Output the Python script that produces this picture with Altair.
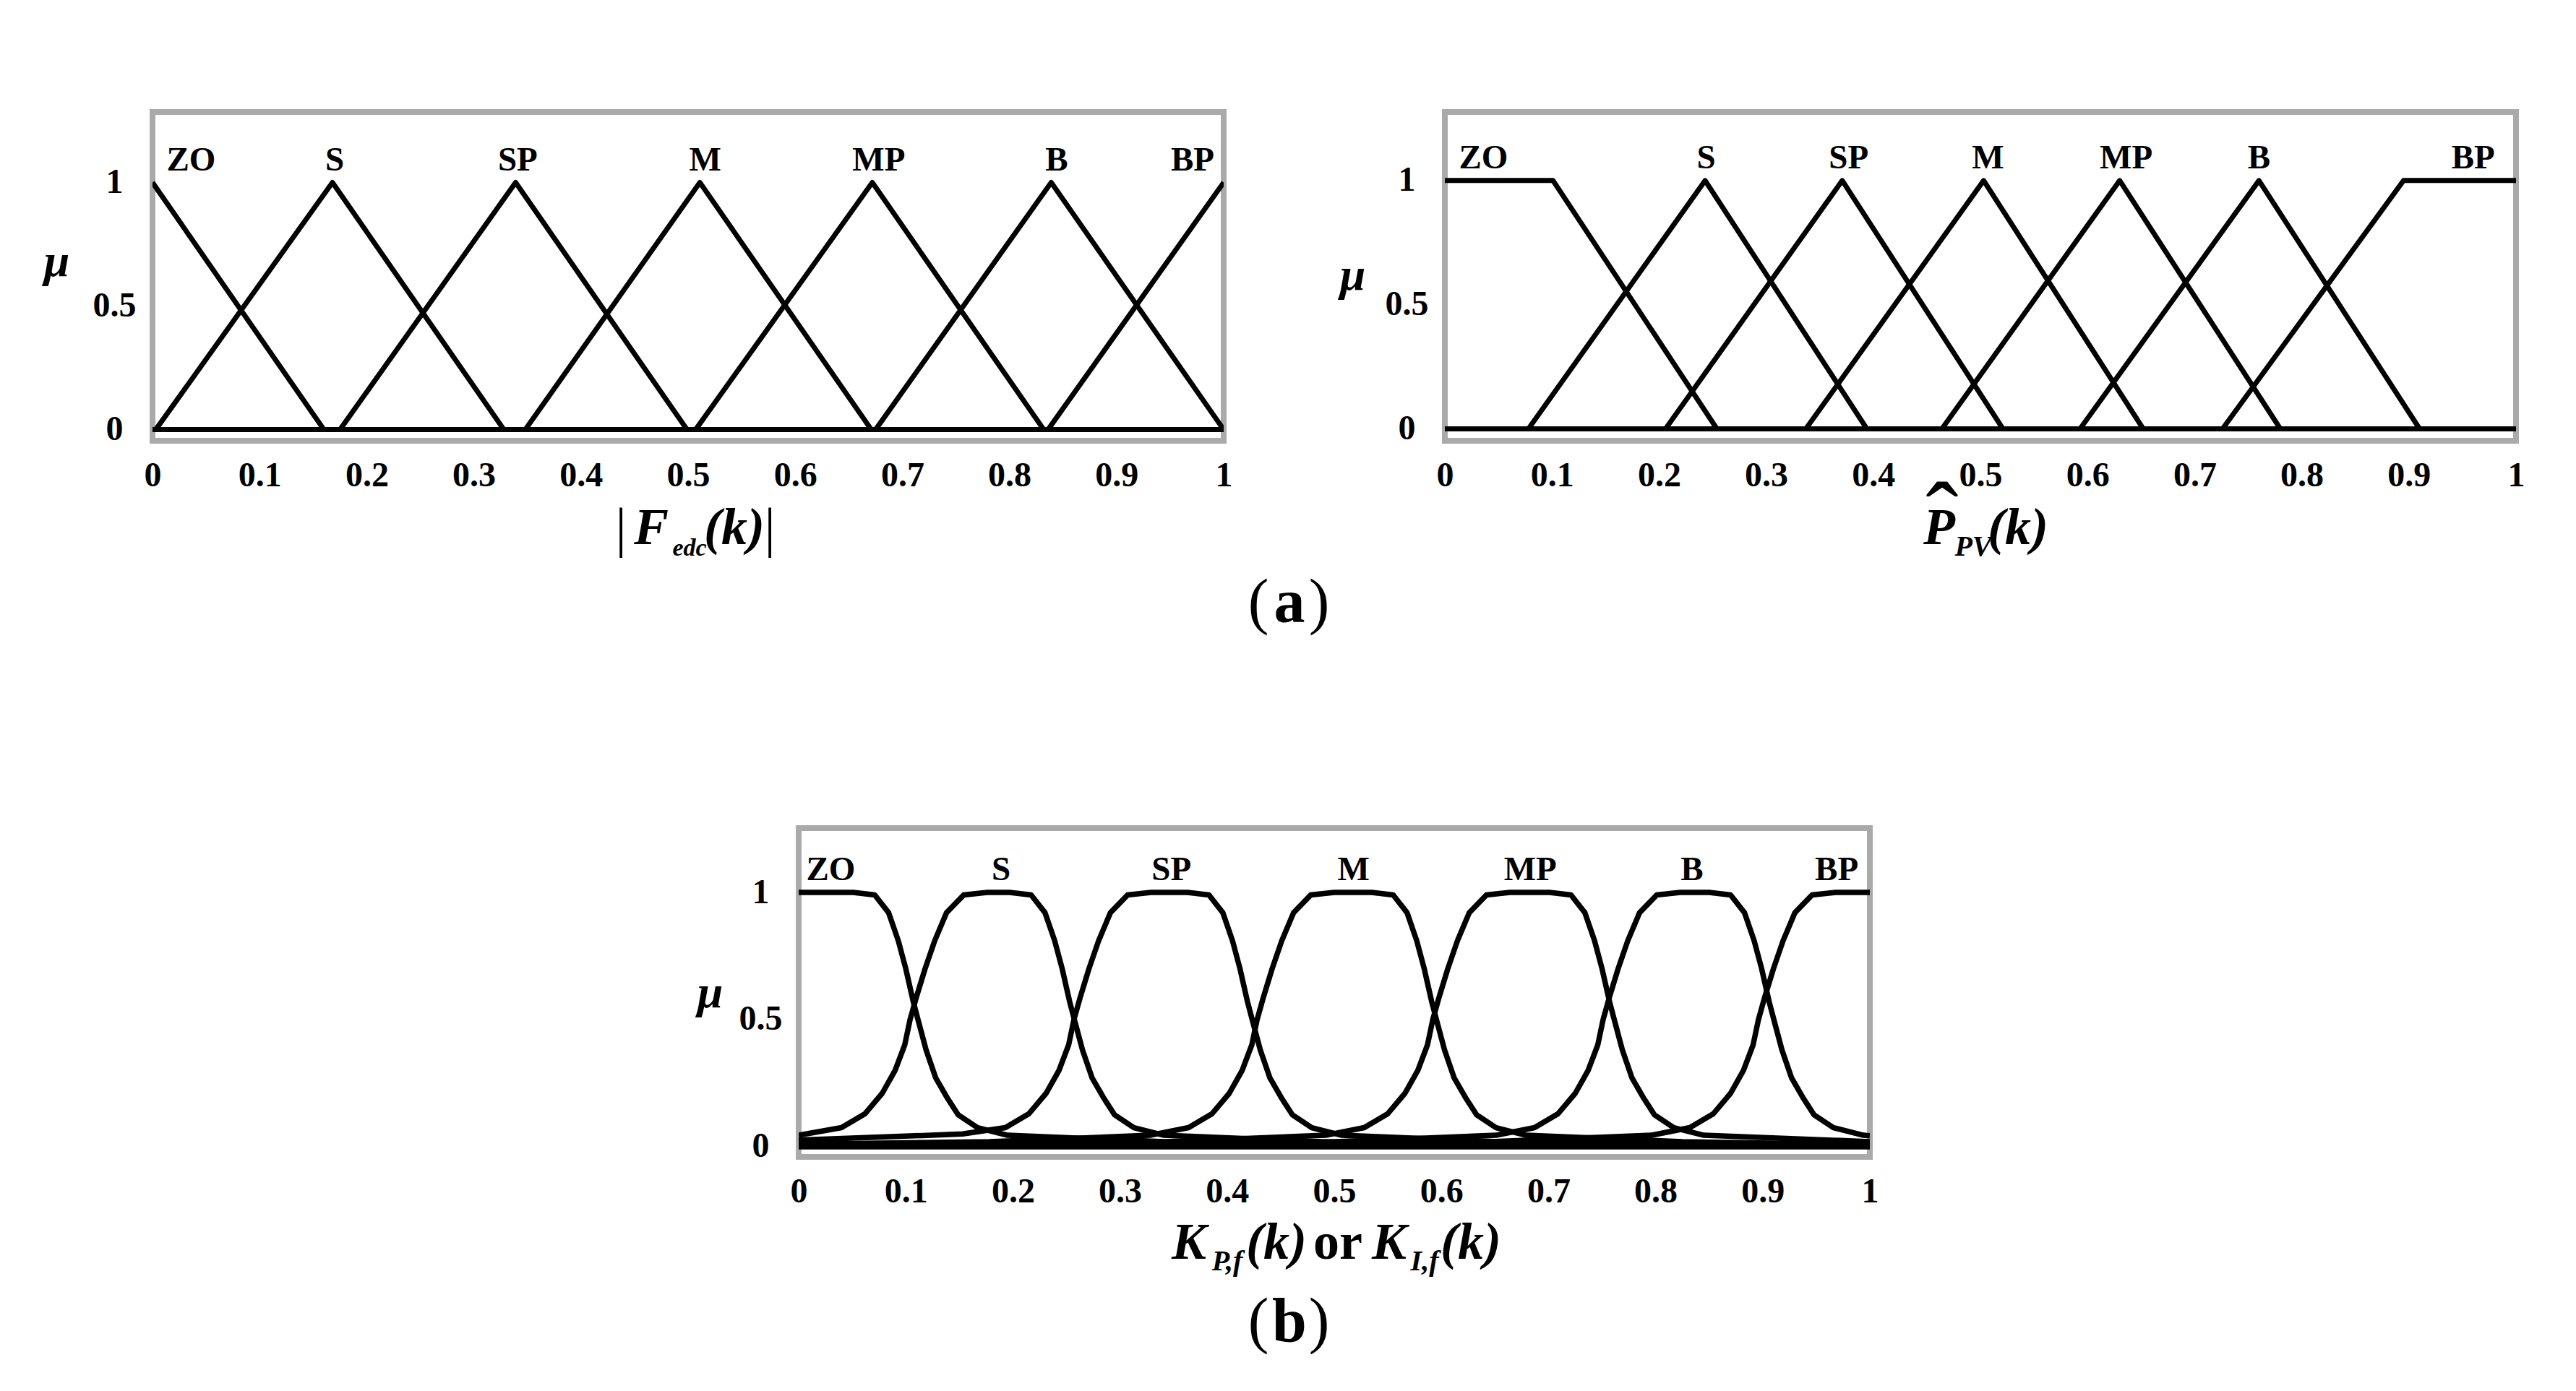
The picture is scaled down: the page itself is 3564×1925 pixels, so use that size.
import altair as alt
import pandas as pd

FONT = "Liberation Serif"
MF_NAMES = ["ZO", "S", "SP", "M", "MP", "B", "BP"]
X_TICKS = [0, 0.1, 0.2, 0.3, 0.4, 0.5, 0.6, 0.7, 0.8, 0.9, 1]
Y_TICKS = [0, 0.5, 1]

# ---------- panel (a) left : |F_edc(k)| ----------
P1_X = {
    "ZO": [0.0, 0.160, 1.0],
    "S": [0.0, 0.003, 0.168, 0.328, 1.0],
    "SP": [0.0, 0.175, 0.339, 0.499, 1.0],
    "M": [0.0, 0.348, 0.511, 0.671, 1.0],
    "MP": [0.0, 0.507, 0.672, 0.832, 1.0],
    "B": [0.0, 0.675, 0.839, 1.0],
    "BP": [0.0, 0.836, 1.0],
}
P1_Y = {
    "ZO": [1, 0, 0],
    "S": [0, 0, 1, 0, 0],
    "SP": [0, 0, 1, 0, 0],
    "M": [0, 0, 1, 0, 0],
    "MP": [0, 0, 1, 0, 0],
    "B": [0, 0, 1, 0],
    "BP": [0, 0, 1],
}
P1_LABEL_X = [0.036, 0.170, 0.341, 0.516, 0.678, 0.844, 0.971]

# ---------- panel (a) right : P_PV(k) ----------
P2_X = {
    "ZO": [0.0, 0.101, 0.254, 1.0],
    "S": [0.0, 0.078, 0.243, 0.394, 1.0],
    "SP": [0.0, 0.206, 0.371, 0.521, 1.0],
    "M": [0.0, 0.337, 0.503, 0.652, 1.0],
    "MP": [0.0, 0.464, 0.630, 0.780, 1.0],
    "B": [0.0, 0.593, 0.760, 0.910, 1.0],
    "BP": [0.0, 0.726, 0.895, 1.0],
}
P2_Y = {
    "ZO": [1, 1, 0, 0],
    "S": [0, 0, 1, 0, 0],
    "SP": [0, 0, 1, 0, 0],
    "M": [0, 0, 1, 0, 0],
    "MP": [0, 0, 1, 0, 0],
    "B": [0, 0, 1, 0, 0],
    "BP": [0, 0, 1, 1],
}
P2_LABEL_X = [0.036, 0.244, 0.377, 0.507, 0.636, 0.760, 0.960]

# ---------- panel (b) : K_P,f(k) or K_I,f(k) ----------
P3_X = {
    "ZO": [0.0, 0.051, 0.071, 0.084, 0.093, 0.100, 0.107, 0.112, 0.119, 0.128,
           0.139, 0.149, 0.167, 0.195, 0.341, 1.0],
    "S": [0.0, 0.040, 0.062, 0.078, 0.090, 0.099, 0.104, 0.110, 0.118, 0.127,
          0.138, 0.154, 0.176, 0.197, 0.217, 0.230, 0.239, 0.246, 0.253, 0.258,
          0.265, 0.274, 0.285, 0.295, 0.313, 0.341, 0.487, 1.0],
    "SP": [0.0, 0.153, 0.193, 0.215, 0.231, 0.243, 0.252, 0.257, 0.263, 0.271,
           0.280, 0.291, 0.307, 0.329, 0.363, 0.383, 0.396, 0.405, 0.412, 0.419,
           0.424, 0.431, 0.440, 0.451, 0.461, 0.479, 0.507, 0.653, 1.0],
    "M": [0.0, 0.178, 0.328, 0.364, 0.386, 0.402, 0.414, 0.423, 0.428, 0.434,
          0.442, 0.451, 0.462, 0.478, 0.500, 0.535, 0.555, 0.568, 0.577, 0.584,
          0.591, 0.596, 0.603, 0.612, 0.623, 0.633, 0.651, 0.679, 0.825, 1.0],
    "MP": [0.0, 0.342, 0.492, 0.528, 0.550, 0.566, 0.578, 0.587, 0.592, 0.598,
           0.606, 0.615, 0.626, 0.642, 0.664, 0.701, 0.721, 0.734, 0.743, 0.750,
           0.757, 0.762, 0.769, 0.778, 0.789, 0.799, 0.817, 0.845, 1.0],
    "B": [0.0, 0.501, 0.651, 0.687, 0.709, 0.725, 0.737, 0.746, 0.751, 0.757,
          0.765, 0.774, 0.785, 0.801, 0.823, 0.850, 0.870, 0.883, 0.892, 0.899,
          0.906, 0.911, 0.918, 0.927, 0.938, 0.948, 0.966, 0.994, 1.0],
    "BP": [0.0, 0.646, 0.796, 0.832, 0.854, 0.870, 0.882, 0.891, 0.896, 0.902,
           0.910, 0.919, 0.930, 0.946, 0.968, 1.0],
    "base": [0.0, 1.0],
}
P3_Y = {
    "ZO": [1.0, 1.0, 0.99, 0.92, 0.81, 0.70, 0.57, 0.49, 0.38, 0.27,
           0.19, 0.125, 0.075, 0.045, 0.02, 0.008],
    "S": [0.045, 0.075, 0.13, 0.21, 0.30, 0.40, 0.50, 0.59, 0.70, 0.81,
          0.92, 0.99, 1.0, 1.0, 0.99, 0.92, 0.81, 0.70, 0.57, 0.49,
          0.38, 0.27, 0.19, 0.125, 0.075, 0.045, 0.02, 0.008],
    "SP": [0.026, 0.05, 0.075, 0.13, 0.21, 0.30, 0.40, 0.50, 0.59, 0.70,
           0.81, 0.92, 0.99, 1.0, 1.0, 0.99, 0.92, 0.81, 0.70, 0.57,
           0.49, 0.38, 0.27, 0.19, 0.125, 0.075, 0.045, 0.02, 0.008],
    "M": [0.01, 0.02, 0.045, 0.075, 0.13, 0.21, 0.30, 0.40, 0.50, 0.59,
          0.70, 0.81, 0.92, 0.99, 1.0, 1.0, 0.99, 0.92, 0.81, 0.70,
          0.57, 0.49, 0.38, 0.27, 0.19, 0.125, 0.075, 0.045, 0.02, 0.008],
    "MP": [0.01, 0.02, 0.045, 0.075, 0.13, 0.21, 0.30, 0.40, 0.50, 0.59,
           0.70, 0.81, 0.92, 0.99, 1.0, 1.0, 0.99, 0.92, 0.81, 0.70,
           0.57, 0.49, 0.38, 0.27, 0.19, 0.125, 0.075, 0.045, 0.02],
    "B": [0.01, 0.02, 0.045, 0.075, 0.13, 0.21, 0.30, 0.40, 0.50, 0.59,
          0.70, 0.81, 0.92, 0.99, 1.0, 1.0, 0.99, 0.92, 0.81, 0.70,
          0.57, 0.49, 0.38, 0.27, 0.19, 0.125, 0.075, 0.045, 0.043],
    "BP": [0.01, 0.02, 0.045, 0.075, 0.13, 0.21, 0.30, 0.40, 0.50, 0.59,
           0.70, 0.81, 0.92, 0.99, 1.0, 1.0],
    "base": [0.0, 0.0],
}
P3_LABEL_X = [0.030, 0.189, 0.348, 0.518, 0.683, 0.834, 0.969]

LABEL_Y = 1.048
GRAY = "#aaaaaa"
PANEL_W, PANEL_H = 1482, 455
TF, SF = 72, 40  # title main / subscript font sizes


def curves_df(X, Y):
    rows = []
    for name in X:
        for i, (xv, yv) in enumerate(zip(X[name], Y[name])):
            rows.append({"mf": name, "i": i, "x": xv, "y": yv})
    return pd.DataFrame(rows)


def txt(s, x, y, size, style="italic", weight="bold", align="center"):
    return alt.Chart(alt.Data(values=[{"k": 0}])).mark_text(
        text=s, font=FONT, fontSize=size, fontStyle=style, fontWeight=weight,
        color="black", align=align, baseline="alphabetic",
    ).encode(x=alt.value(x), y=alt.value(y))


def panel(X, Y, label_x, ydom, mu_x, mu_y, pieces, stroke):
    df = curves_df(X, Y)
    xs = alt.Scale(domain=[0, 1], nice=False, zero=False)
    ys = alt.Scale(domain=ydom, nice=False, zero=False)
    xaxis = alt.Axis(values=X_TICKS, format=".1~f", title=None, domain=False,
                     ticks=False, grid=False, labelFont=FONT, labelFontWeight="bold",
                     labelFontSize=48, labelColor="black", labelPadding=24,
                     labelFlush=False, labelOverlap=False)
    yaxis = alt.Axis(values=Y_TICKS, format=".1~f", title="μ", domain=False,
                     ticks=False, grid=False, labelFont=FONT, labelFontWeight="bold",
                     labelFontSize=48, labelColor="black", labelPadding=53,
                     labelAlign="center", labelBaseline="middle", labelFlush=False,
                     titleFont=FONT, titleFontStyle="italic", titleFontWeight="bold",
                     titleFontSize=64, titleColor="black", titleAngle=0,
                     titleAlign="center", titleBaseline="middle",
                     titleX=mu_x, titleY=mu_y)
    lines = alt.Chart(df).mark_line(
        color="black", strokeWidth=stroke, clip=True, strokeJoin="round"
    ).encode(
        x=alt.X("x:Q", scale=xs, axis=xaxis),
        y=alt.Y("y:Q", scale=ys, axis=yaxis),
        detail="mf:N",
        order="i:Q",
    )
    lab_df = pd.DataFrame({"t": MF_NAMES, "x": label_x, "y": [LABEL_Y] * len(MF_NAMES)})
    labels = alt.Chart(lab_df).mark_text(
        font=FONT, fontWeight="bold", fontSize=47, color="black",
        align="center", baseline="alphabetic",
    ).encode(
        x=alt.X("x:Q", scale=xs, axis=xaxis),
        y=alt.Y("y:Q", scale=ys, axis=yaxis),
        text="t:N",
    )
    layers = [lines, labels] + pieces
    return alt.layer(*layers).properties(width=PANEL_W, height=PANEL_H)


# axis-title pieces (pixel offsets from each panel's plot origin)
t1 = [
    txt("|", 648, 601, 76, style="normal", weight="normal"),
    txt("F", 690, 598, TF),
    txt("edc", 743, 614, 34),
    txt("(k)", 805, 598, TF),
    txt("|", 854, 601, 76, style="normal", weight="normal"),
]
t2 = [
    txt("ˆ", 688, 606, 136, style="normal", weight="normal"),
    txt("P", 684, 598, TF),
    txt("PV", 731, 614, SF),
    txt("(k)", 793, 598, TF),
]
t3 = [
    txt("K", 540, 596, TF),
    txt("P,f", 593, 612, SF),
    txt("(k)", 661, 596, TF),
    txt("or", 746, 596, TF, style="normal"),
    txt("K", 817, 596, TF),
    txt("I,f", 866, 612, SF),
    txt("(k)", 930, 596, TF),
    # figure captions
    txt("(", 636, -285, 86, style="normal", weight="normal"),
    txt("a", 679, -285, 86, style="normal", weight="bold"),
    txt(")", 720, -285, 86, style="normal", weight="normal"),
    txt("(", 636, 710, 86, style="normal", weight="normal"),
    txt("b", 679, 710, 86, style="normal", weight="bold"),
    txt(")", 720, 710, 86, style="normal", weight="normal"),
]

p1 = panel(P1_X, P1_Y, P1_LABEL_X, [-0.045, 1.285], -133, 207, t1, 7)
p2 = panel(P2_X, P2_Y, P2_LABEL_X, [-0.048, 1.276], -128, 226, t2, 7)
p3 = panel(P3_X, P3_Y, P3_LABEL_X, [-0.040, 1.253], -123, 228, t3, 7.5)

top = alt.hconcat(p1, p2, spacing=306, bounds="flush")
chart = alt.vconcat(top, p3, spacing=-4, center=True).properties(
    padding={"left": 48, "top": 143, "right": 10, "bottom": 10},
    background="white",
).configure_view(stroke=GRAY, strokeWidth=8)

chart.save("out.html", embed_options={"renderer": "svg", "actions": False})
